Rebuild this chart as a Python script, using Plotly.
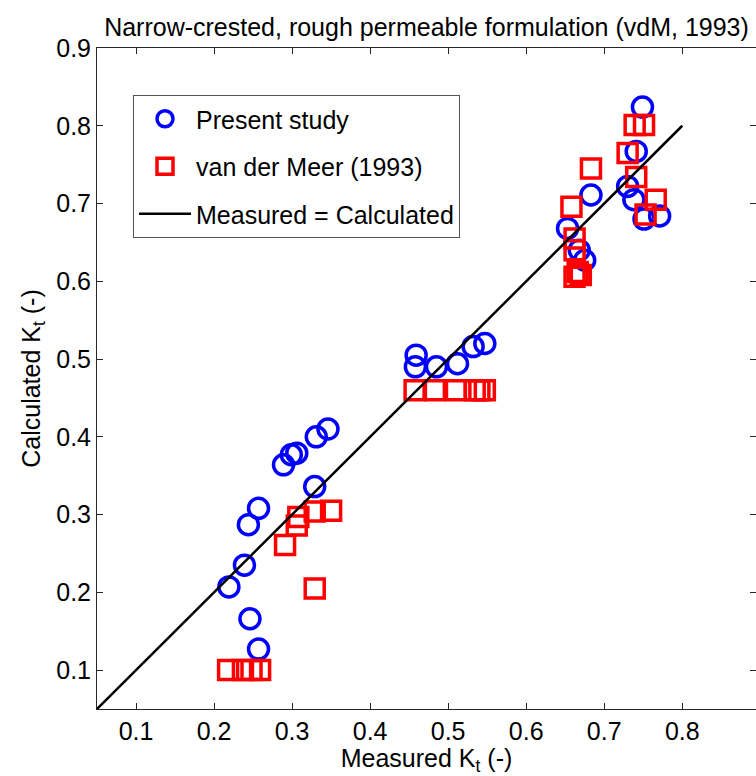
import plotly.graph_objects as go

# Present study (blue circles): measured Kt, calculated Kt
present_x = [0.219, 0.239, 0.244, 0.257, 0.246, 0.257, 0.289, 0.299, 0.306, 0.331, 0.346, 0.329,
             0.459, 0.458, 0.485, 0.512, 0.532, 0.547,
             0.653, 0.668, 0.675, 0.683, 0.730, 0.738, 0.741, 0.749, 0.751, 0.771]
present_y = [0.207, 0.235, 0.287, 0.308, 0.166, 0.127, 0.364, 0.377, 0.379, 0.400, 0.410, 0.336,
             0.505, 0.490, 0.490, 0.494, 0.516, 0.520,
             0.668, 0.640, 0.627, 0.711, 0.722, 0.705, 0.767, 0.824, 0.680, 0.684]

# van der Meer (1993) (red squares)
vdm_x = [0.218, 0.237, 0.248, 0.259,
         0.291, 0.306, 0.308, 0.329, 0.350, 0.329,
         0.457, 0.483, 0.510, 0.534, 0.540, 0.547,
         0.658, 0.662, 0.662, 0.666, 0.662, 0.670,
         0.683, 0.730, 0.739, 0.751, 0.741, 0.766, 0.753]
vdm_y = [0.100, 0.100, 0.100, 0.100,
         0.261, 0.286, 0.297, 0.304, 0.305, 0.205,
         0.460, 0.460, 0.460, 0.460, 0.460, 0.460,
         0.696, 0.655, 0.640, 0.612, 0.606, 0.608,
         0.745, 0.765, 0.801, 0.801, 0.734, 0.705, 0.686]

# Line of perfect agreement
line_x = [0.05, 0.8]
line_y = [0.05, 0.8]

tick_vals_x = [0.1, 0.2, 0.3, 0.4, 0.5, 0.6, 0.7, 0.8]
tick_vals_y = [0.1, 0.2, 0.3, 0.4, 0.5, 0.6, 0.7, 0.8, 0.9]

FONT = "Liberation Sans, Arial, sans-serif"
FS = 25

fig = go.Figure()
fig.add_trace(go.Scatter(
    x=present_x, y=present_y, mode="markers", name="Present study",
    legendgroup="a",
    marker=dict(symbol="circle-open", size=20, color="#0000ff",
                line=dict(width=3.5, color="#0000ff"))))
fig.add_trace(go.Scatter(
    x=vdm_x, y=vdm_y, mode="markers", name="van der Meer (1993)",
    legendgroup="b",
    marker=dict(symbol="square-open", size=19, color="#ff0000",
                line=dict(width=3.5, color="#ff0000"))))
fig.add_trace(go.Scatter(
    x=line_x, y=line_y, mode="lines", name="Measured = Calculated",
    legendgroup="c",
    line=dict(color="black", width=2.5)))

axis_common = dict(
    showgrid=False, zeroline=False, showline=True, linecolor="#262626", linewidth=1,
    mirror="ticks", ticks="inside", ticklen=6, tickcolor="#262626",
    tickfont=dict(size=FS, color="black", family=FONT),
)

fig.update_layout(
    width=756, height=776,
    margin=dict(l=97, r=0, t=48, b=67),
    paper_bgcolor="white", plot_bgcolor="white",
    font=dict(family=FONT, color="black", size=FS),
    title=dict(text="Narrow-crested, rough permeable formulation (vdM, 1993)",
               x=0.5, xref="paper", xanchor="center",
               y=1 - 27 / 776, yref="container", yanchor="middle",
               font=dict(size=FS, color="black", family=FONT)),
    xaxis=dict(range=[0.05, 0.8945], tickvals=tick_vals_x,
               ticktext=[f"{v:.1f}" for v in tick_vals_x],
               title=dict(text="Measured K<sub>t</sub> (-)", standoff=2,
                          font=dict(size=FS, color="black", family=FONT)),
               **axis_common),
    yaxis=dict(range=[0.05, 0.9], tickvals=tick_vals_y,
               ticktext=[f"{v:.1f}" for v in tick_vals_y],
               title=dict(text="Calculated K<sub>t</sub> (-)", standoff=8,
                          font=dict(size=FS, color="black", family=FONT)),
               **axis_common),
    showlegend=True,
    legend=dict(x=(133 - 97) / 659, y=1 - (95 - 48) / 661, xanchor="left", yanchor="top",
                bgcolor="white", bordercolor="#555555", borderwidth=1,
                font=dict(size=FS, color="black", family=FONT),
                tracegroupgap=12, itemwidth=52),
)

fig.write_html("out.html")
